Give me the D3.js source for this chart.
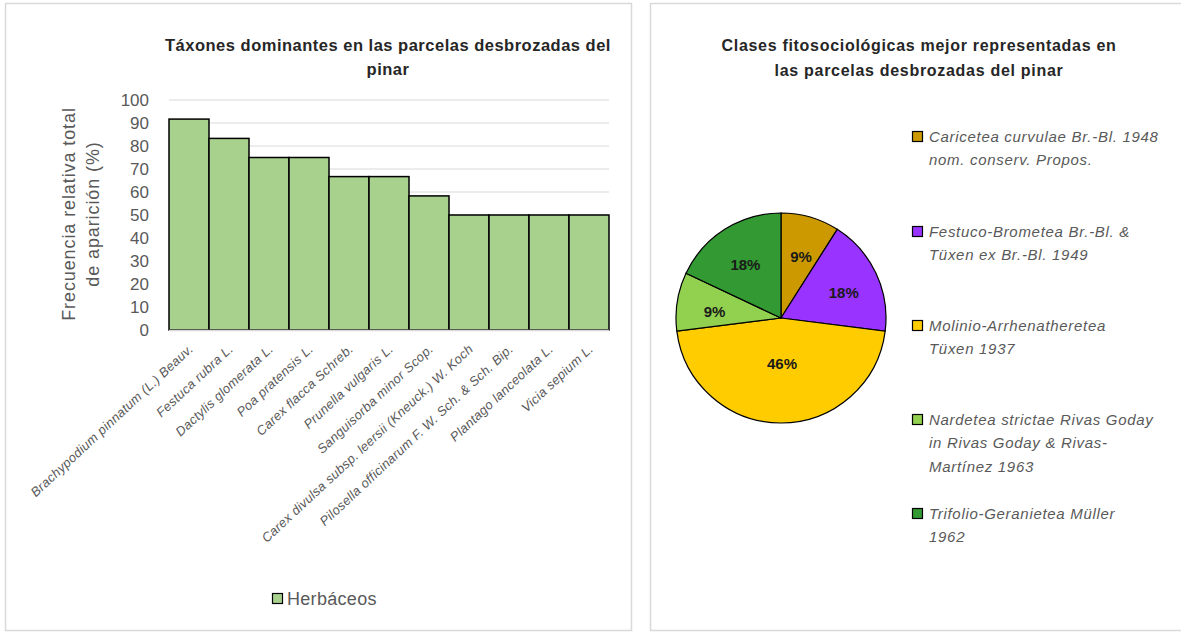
<!DOCTYPE html>
<html><head><meta charset="utf-8">
<script src="https://cdn.jsdelivr.net/npm/d3@7"></script>
<style>body{margin:0;background:#fff}svg{display:block}</style>
</head><body>
<svg id="c" width="1181" height="634"></svg>
<script>
// ---- data ----
const taxa = ["Brachypodium pinnatum (L.) Beauv.","Festuca rubra L.","Dactylis glomerata L.","Poa pratensis L.","Carex flacca Schreb.","Prunella vulgaris L.","Sanguisorba minor Scop.","Carex divulsa subsp. leersii (Kneuck.) W. Koch","Pilosella officinarum F. W. Sch. & Sch. Bip.","Plantago lanceolata L.","Vicia sepium L."];
const frecuencia = [91.7, 83.3, 75, 75, 66.7, 66.7, 58.3, 50, 50, 50, 50];
const yTicks = [0,10,20,30,40,50,60,70,80,90,100];
const barSeries = "Herbáceos";
const clases = [
  ["Caricetea curvulae Br.-Bl. 1948","nom. conserv. Propos."],
  ["Festuco-Brometea Br.-Bl. &","Tüxen ex Br.-Bl. 1949"],
  ["Molinio-Arrhenatheretea","Tüxen 1937"],
  ["Nardetea strictae Rivas Goday","in Rivas Goday & Rivas-","Martínez 1963"],
  ["Trifolio-Geranietea Müller","1962"]
];
const porcentajes = [9, 18, 46, 9, 18];
const clasesColors = ["#CC9900","#9933FF","#FFCC00","#92D050","#339933"];

const svg = d3.select("#c");
const FONT = "'Liberation Sans', Arial, sans-serif";
svg.append("rect").attr("width",1181).attr("height",634).attr("fill","#fff");
// panels
svg.append("rect").attr("x",5.5).attr("y",3.5).attr("width",626).attr("height",627)
  .attr("fill","#fff").attr("stroke","#D9D9D9").attr("stroke-width",1.5);
svg.append("rect").attr("x",650.5).attr("y",3.5).attr("width",545).attr("height",627)
  .attr("fill","#fff").attr("stroke","#D9D9D9").attr("stroke-width",1.5);

// ---- bar chart ----
const x = d3.scaleBand().domain(taxa).range([169, 609]).padding(0);
const y = d3.scaleLinear().domain([0,100]).range([330,100]);

const g = svg.append("g");
g.selectAll("line.grid").data(yTicks.filter(t=>t>0)).join("line")
  .attr("x1",169).attr("x2",609).attr("y1",d=>y(d)).attr("y2",d=>y(d))
  .attr("stroke","#D9D9D9").attr("stroke-width",1.2);

const yAxis = d3.axisLeft(y).tickValues(yTicks).tickSize(0).tickPadding(0);
const ya = g.append("g").attr("transform","translate(149,0)").call(yAxis);
ya.select(".domain").remove();
ya.selectAll("text").attr("font-family",FONT).attr("font-size",17).attr("fill","#595959").attr("dy","0.35em");

g.selectAll("rect.bar").data(frecuencia).join("rect")
  .attr("x",(d,i)=>x(taxa[i])).attr("width",x.bandwidth())
  .attr("y",d=>y(d)).attr("height",d=>y(0)-y(d))
  .attr("fill","#A9D18E").attr("stroke","#000").attr("stroke-width",1.5);
g.append("line").attr("x1",169).attr("x2",609).attr("y1",y(0)+0.5).attr("y2",y(0)+0.5)
  .attr("stroke","#D9D9D9").attr("stroke-width",1.5);

// x labels
const xAxis = d3.axisBottom(x).tickSize(0).tickPadding(0);
const xa = g.append("g").attr("transform",`translate(0,${y(0)})`).call(xAxis);
xa.select(".domain").remove();
xa.selectAll("text")
  .attr("font-family",FONT).attr("font-size",13).attr("font-style","italic").attr("fill","#595959")
  .attr("letter-spacing",0.3)
  .attr("text-anchor","end").attr("dy",null).attr("y",0)
  .attr("transform","translate(5,20) rotate(-43)");

// y title
const yt = g.append("text").attr("transform","translate(75,214) rotate(-90)")
  .attr("text-anchor","middle").attr("font-family",FONT).attr("font-size",18).attr("fill","#595959")
  .attr("letter-spacing",0.9);
yt.append("tspan").attr("x",0).attr("y",0).text("Frecuencia relativa total");
yt.append("tspan").attr("x",0).attr("y",24).text("de aparición (%)");

// title
const t1 = g.append("text").attr("text-anchor","middle").attr("font-family",FONT)
  .attr("font-weight","bold").attr("font-size",16.5).attr("fill","#262626").attr("letter-spacing",0.5);
t1.append("tspan").attr("x",388).attr("y",51).text("Táxones dominantes en las parcelas desbrozadas del");
t1.append("tspan").attr("x",388).attr("y",75).text("pinar");

// legend
g.append("rect").attr("x",272.5).attr("y",593.5).attr("width",10).attr("height",10)
  .attr("fill","#A9D18E").attr("stroke","#000").attr("stroke-width",1.2);
g.append("text").attr("x",287).attr("y",605).attr("font-family",FONT).attr("font-size",18)
  .attr("letter-spacing",0.3).attr("fill","#595959").text(barSeries);

// ---- pie chart ----
const cx = 781, cy = 318, R = 105;
const pie = d3.pie().sort(null).value(d=>d)(porcentajes);
const arc = d3.arc().innerRadius(0).outerRadius(R);
const pg = svg.append("g").attr("transform",`translate(${cx},${cy})`);
pg.selectAll("path").data(pie).join("path")
  .attr("d",arc).attr("fill",(d,i)=>clasesColors[i]).attr("stroke","#000").attr("stroke-width",1.2);
pg.selectAll("text").data(pie).join("text")
  .attr("transform",d=>{
    const lr = d.data > 40 ? 0.4*R : 0.65*R;
    const a = (d.startAngle+d.endAngle)/2;
    return `translate(${lr*Math.sin(a)+1},${-lr*Math.cos(a)+4})`;
  })
  .attr("text-anchor","middle").attr("dy","0.35em")
  .attr("font-family",FONT).attr("font-weight","bold").attr("font-size",15).attr("fill","#1a1a1a")
  .text(d=>d.data+"%");

// pie title
const t2 = svg.append("text").attr("text-anchor","middle").attr("font-family",FONT)
  .attr("font-weight","bold").attr("font-size",16).attr("fill","#262626").attr("letter-spacing",0.7);
t2.append("tspan").attr("x",919).attr("y",51).text("Clases fitosociológicas mejor representadas  en");
t2.append("tspan").attr("x",919).attr("y",76).text("las parcelas desbrozadas del pinar");

// pie legend
const legTop = [137, 232, 326, 420, 514];
const lg = svg.append("g");
clases.forEach((lines,i)=>{
  lg.append("rect").attr("x",912.5).attr("y",legTop[i]-5.5).attr("width",10).attr("height",10)
    .attr("fill",clasesColors[i]).attr("stroke","#000").attr("stroke-width",1.2);
  const t = lg.append("text").attr("font-family",FONT).attr("font-style","italic")
    .attr("font-size",15).attr("letter-spacing",0.7).attr("fill","#595959");
  lines.forEach((l,j)=>t.append("tspan").attr("x",929).attr("y",legTop[i]+5+j*23.3).text(l));
});
</script>
</body></html>
